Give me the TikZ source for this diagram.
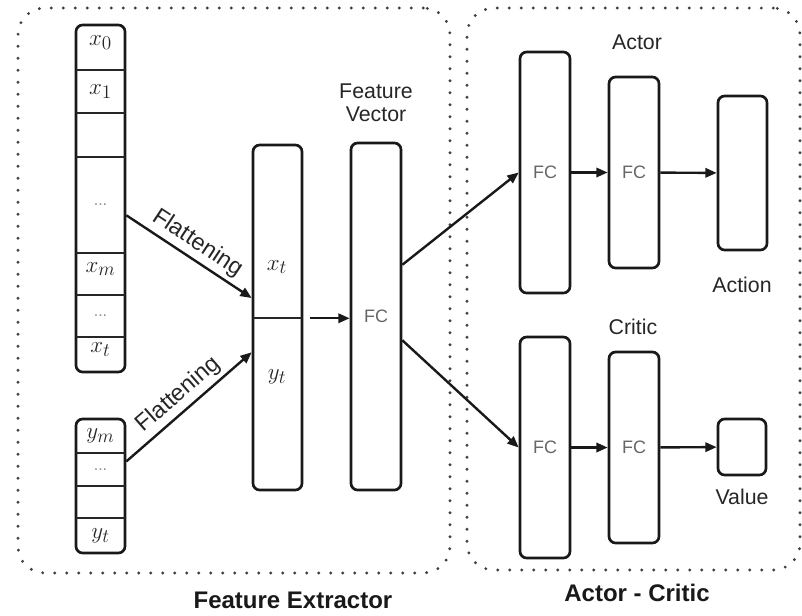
\documentclass[tikz,border=0pt]{standalone}
\usepackage{fontspec}
\setmainfont{Liberation Sans}
\usepackage{amsmath}
\usetikzlibrary{fit,calc,arrows.meta}

\begin{document}
\begin{tikzpicture}[x=0.75pt,y=-0.75pt,
	col/.style={draw=black!90,line width=2pt,rounded corners=5pt,inner sep=0pt},
	cell/.style={inner sep=0pt,font=\fontsize{19}{22}\selectfont,text=black!85},
	sep/.style={draw=black!85,line width=1.4pt},
	fc/.style={font=\fontsize{13.5}{15}\selectfont,text=black!60},
	lbl/.style={font=\fontsize{16}{19}\selectfont,text=black!85},
	ttl/.style={font=\fontsize{18}{20}\selectfont\bfseries,text=black!90},
	arr/.style={draw=black!90,line width=1.8pt,-{Triangle[length=8.5pt,width=7pt]}},
	grp/.style={draw=black!75,line width=2.4pt,line cap=round,dash pattern=on 0pt off 9pt,rounded corners=20pt,inner sep=0pt}]
				\useasboundingbox (0,0) rectangle (802,615);
				
				% dotted groups
				\node[grp,fit={(18,8) (450,573)}] (fe) {};
				\node[grp,fit={(467,8) (800,570)}] (ac) {};
				\node[ttl] (tfe) at (293,600) {Feature Extractor};
				\node[ttl] (tac) at (637,593) {Actor - Critic};
				
				% input columns
				\node[col,fit={(76,25) (125,372)}] (xcol) {};
				\foreach \n/\t/\b/\s in
				{0/25/70/{$x_0$}, 1/70/113/{}, 2/113/157/{}, 3/157/253/{}, 4/253/295/{$x_m$}, 5/295/337/{}, 6/337/372/{$x_t$}}{
					\node[cell,fit={(76,\t) (125,\b)}] (x\n) {\s};
				}
				\node[cell] at (x1) {$x_1$};
				\node[cell,text=black!45,font=\fontsize{12}{14}\selectfont] at (x3) {...};
				\node[cell,text=black!45,font=\fontsize{12}{14}\selectfont] at (x5) {...};
				\foreach \n in {0,...,5}{
					\draw[sep] (x\n.south west) -- (x\n.south east);
				}
				
				\node[col,fit={(76,419) (125,553)}] (ycol) {};
				\foreach \n/\t/\b in
				{0/419/453, 1/453/486, 2/486/518, 3/518/553}{
					\node[cell,fit={(76,\t) (125,\b)}] (y\n) {};
				}
				\node[cell] at (y0) {$y_m$};
				\node[cell,text=black!45,font=\fontsize{12}{14}\selectfont] at (y1) {...};
				\node[cell] at (y3) {$y_t$};
				\foreach \n in {0,1,2}{
					\draw[sep] (y\n.south west) -- (y\n.south east);
				}
				
				% concatenated + feature vector
				\node[col,fit={(253,145) (302,490)}] (cat) {};
				\node[inner sep=0pt,fit={(253,145) (302,318)}] (catx) {};
				\draw[sep] (catx.south west) -- (catx.south east);
				\node[cell] (cx) at (277,267) {$x_t$};
				\node[cell] (cy) at (277,377) {$y_t$};
				
				\node[col,fit={(351,143) (401,490)}] (vec) {};
				\node[fc] (fv) at (vec) {FC};
				\node[lbl,align=center] (tvec) at (376,103) {Feature\\[-2pt]Vector};
				
				% actor
				\node[col,fit={(520,52) (570,293)}] (a1) {};
				\node[col,fit={(609,77) (659,268)}] (a2) {};
				\node[col,fit={(718,96) (767,250)}] (act) {};
				\node[fc] at (a1) {FC};
				\node[fc] at (a2) {FC};
				\node[lbl] (tactor) at (637,42) {Actor};
				\node[lbl] (taction) at (742,285) {Action};
				
				% critic
				\node[col,fit={(520,337) (570,558)}] (c1) {};
				\node[col,fit={(609,352) (659,543)}] (c2) {};
				\node[col,fit={(718,419) (766,475)}] (val) {};
				\node[fc] at (c1) {FC};
				\node[fc] at (c2) {FC};
				\node[lbl] (tcritic) at (633,327) {Critic};
				\node[lbl] (tvalue) at (742,497) {Value};
				
				\coordinate (xo) at ($(xcol.north east)!0.548!(xcol.south east)$);
				\coordinate (yo) at ($(ycol.north east)!0.32!(ycol.south east)$);
				\coordinate (xi) at ($(cat.north west)!0.444!(cat.south west)$);
				\coordinate (yi) at ($(cat.north west)!0.6!(cat.south west)$);
				\coordinate (vo1) at ($(vec.north east)!0.352!(vec.south east)$);
				\coordinate (vo2) at ($(vec.north east)!0.568!(vec.south east)$);
				
				\draw[arr] (xo) -- node[midway,sloped,above,lbl,font=\fontsize{17.5}{20}\selectfont,inner sep=3pt] {Flattening} (xi);
				\draw[arr] (yo) -- node[midway,sloped,above,lbl,font=\fontsize{17.5}{20}\selectfont,inner sep=3pt] {Flattening} (yi);
				\draw[arr,shorten <=5pt] (cat.east |- catx.south) -- (vec.west |- catx.south);
				\draw[arr] (vo1) -- (a1.west);
				\draw[arr] (vo2) -- (c1.west);
				\foreach \x/\y in
				{a1/a2, a2/act, c1/c2, c2/val}{
					\draw[arr] (\x) -- (\y);
				}
			\end{tikzpicture}
\end{document}
